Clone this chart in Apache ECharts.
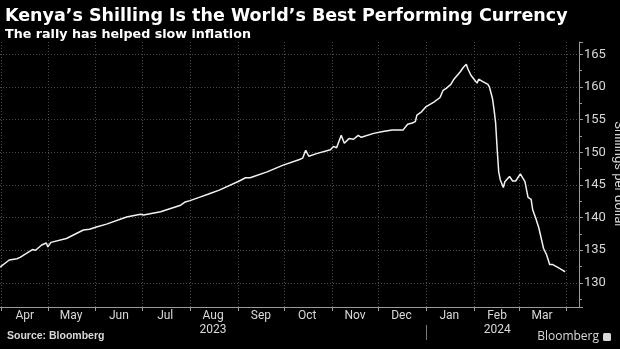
<!DOCTYPE html>
<html>
<head>
<meta charset="utf-8">
<script src="https://cdn.jsdelivr.net/npm/echarts@6/dist/echarts.min.js"></script>
<style>
  html, body { margin: 0; padding: 0; background: #000; }
  #chart { width: 620px; height: 349px; }
</style>
</head>
<body>
<div id="chart"></div>
<script>
// Kenyan shilling per US dollar, daily close readings
const dates = [
  '2023-03-31', '2023-04-06', '2023-04-11', '2023-04-13', '2023-04-21', '2023-04-23', '2023-04-27', '2023-04-30',
  '2023-05-01', '2023-05-03', '2023-05-13', '2023-05-24', '2023-05-28', '2023-06-02', '2023-06-08', '2023-06-21',
  '2023-06-30', '2023-07-02', '2023-07-13', '2023-07-26', '2023-07-29', '2023-08-01', '2023-08-07', '2023-08-14',
  '2023-08-20', '2023-09-02', '2023-09-06', '2023-09-09', '2023-09-20', '2023-09-30', '2023-10-11', '2023-10-13',
  '2023-10-15', '2023-10-17', '2023-10-22', '2023-10-31', '2023-11-02', '2023-11-04', '2023-11-07', '2023-11-09',
  '2023-11-12', '2023-11-15', '2023-11-18', '2023-11-20', '2023-11-28', '2023-12-04', '2023-12-10', '2023-12-17',
  '2023-12-18', '2023-12-20', '2023-12-23', '2023-12-25', '2023-12-26', '2023-12-29', '2024-01-01', '2024-01-06',
  '2024-01-10', '2024-01-12', '2024-01-14', '2024-01-17', '2024-01-19', '2024-01-23', '2024-01-25', '2024-01-27',
  '2024-01-28', '2024-01-30', '2024-02-01', '2024-02-03', '2024-02-04', '2024-02-05', '2024-02-07', '2024-02-10',
  '2024-02-11', '2024-02-13', '2024-02-14', '2024-02-15', '2024-02-16', '2024-02-17', '2024-02-18', '2024-02-20',
  '2024-02-21', '2024-02-24', '2024-02-26', '2024-02-28', '2024-03-02', '2024-03-05', '2024-03-07', '2024-03-09',
  '2024-03-10', '2024-03-12', '2024-03-14', '2024-03-17', '2024-03-19', '2024-03-21', '2024-03-23', '2024-03-26',
  '2024-03-29', '2024-03-31'
];
const rates = [
  132.4, 133.5, 133.7, 133.9, 135.1, 135.0, 135.8, 136.1,
  135.5, 136.2, 136.8, 138.1, 138.2, 138.6, 139.0, 140.1,
  140.5, 140.4, 140.9, 141.9, 142.4, 142.6, 143.1, 143.7,
  144.2, 145.6, 146.1, 146.1, 147.0, 148.0, 148.9, 149.1,
  150.3, 149.4, 149.8, 150.4, 150.9, 150.7, 152.6, 151.4,
  152.1, 152.0, 152.6, 152.3, 152.9, 153.2, 153.4, 153.4,
  153.7, 154.3, 154.5, 154.7, 155.7, 156.2, 157.0, 157.7,
  158.4, 159.5, 159.8, 160.4, 161.2, 162.3, 163.0, 163.5,
  162.8, 161.8, 161.2, 160.6, 161.2, 161.4, 160.8, 160.4,
  160.0, 158.2, 156.5, 154.5, 150.5, 147.0, 145.8, 144.6,
  145.5, 146.3, 145.6, 145.6, 146.7, 145.5, 143.1, 142.8,
  141.2, 139.9, 138.4, 135.3, 134.3, 132.8, 132.8, 132.4,
  132.0, 131.7
];

const monthNames = ['Jan', 'Feb', 'Mar', 'Apr', 'May', 'Jun', 'Jul', 'Aug', 'Sep', 'Oct', 'Nov', 'Dec'];
const yearLabels = { '2023-08-16': '2023', '2024-02-16': '2024' };
const yearBreaks = ['2024-01-01'];

// Calendar of days spanned by the horizontal axis
const axisStart = Date.UTC(2023, 2, 31);
const axisEnd = Date.UTC(2024, 3, 9);
const days = [];
for (let t = axisStart; t <= axisEnd; t += 86400000) {
  days.push(new Date(t).toISOString().slice(0, 10));
}

const isMonthStart = (i, d) => d.slice(8) === '01';
const isMidMonth = (i, d) => d.slice(8) === '16';

const gridColor = '#4a4a4a';
const axisColor = '#9a9a9a';
const textColor = '#d9d9d9';
const uiFont = 'Liberation Sans Narrow, Roboto, sans-serif';
const headFont = 'DejaVu Sans';

const chart = echarts.init(document.getElementById('chart'), null, { renderer: 'canvas' });

chart.setOption({
  backgroundColor: '#000',
  animation: false,
  title: [
    {
      text: 'Kenya’s Shilling Is the World’s Best Performing Currency',
      subtext: 'The rally has helped slow inflation',
      left: 0, top: 2, itemGap: 3,
      textStyle: { color: '#fff', fontSize: 17.5, fontWeight: 'bold', fontFamily: headFont },
      subtextStyle: { color: '#fff', fontSize: 12.7, fontWeight: 'bold', fontFamily: headFont }
    },
    {
      text: 'Source: Bloomberg',
      left: 2, bottom: 2,
      textStyle: { color: textColor, fontSize: 10.5, fontWeight: 'bold', fontFamily: 'Liberation Sans' }
    },
    {
      text: 'Bloomberg{gap|}{mark|}',
      right: 4, bottom: 1,
      textStyle: {
        color: textColor, fontSize: 12, fontWeight: 'normal', fontFamily: 'Open Sans',
        rich: {
          gap: { width: 4 },
          mark: { width: 8, height: 8, backgroundColor: textColor, borderRadius: 1.5 }
        }
      }
    }
  ],
  grid: { left: 0, right: 41, top: 42, bottom: 42, outerBoundsMode: 'none', containLabel: false },
  xAxis: [
    {
      type: 'category',
      data: days,
      boundaryGap: false,
      position: 'bottom',
      axisLine: { show: true, lineStyle: { color: axisColor, width: 1 } },
      axisTick: { show: true, interval: isMonthStart, length: 4, lineStyle: { color: axisColor } },
      axisLabel: {
        show: true,
        interval: isMidMonth,
        color: textColor,
        fontSize: 12,
        fontFamily: uiFont,
        lineHeight: 14,
        margin: 2,
        formatter: (d) => {
          let s = monthNames[+d.slice(5, 7) - 1];
          if (yearLabels[d]) s += '\n' + yearLabels[d];
          return s;
        }
      },
      splitLine: { show: true, interval: isMonthStart, lineStyle: { color: gridColor, type: [1, 2], width: 1 } }
    },
    {
      // divider between calendar years under the month labels
      type: 'category',
      data: days,
      boundaryGap: false,
      position: 'bottom',
      offset: 18,
      axisLine: { show: false },
      axisTick: { show: true, interval: (i, d) => yearBreaks.includes(d), length: 15, lineStyle: { color: '#777' } },
      axisLabel: { show: false },
      splitLine: { show: false }
    }
  ],
  yAxis: {
    type: 'value',
    position: 'right',
    min: 126.3,
    max: 166.9,
    splitNumber: 8,
    name: 'Shillings per dollar',
    nameLocation: 'middle',
    nameRotate: -90,
    nameGap: 33,
    nameMoveOverlap: false,
    nameTextStyle: { color: textColor, fontSize: 13, fontFamily: uiFont },
    axisLine: { show: true, lineStyle: { color: axisColor, width: 1 } },
    axisTick: { show: true, length: 4, lineStyle: { color: axisColor } },
    minorTick: { show: true, splitNumber: 2, length: 3, lineStyle: { color: axisColor } },
    axisLabel: {
      color: textColor, fontSize: 13, fontFamily: uiFont, margin: 5,
      showMinLabel: false, showMaxLabel: false
    },
    splitLine: { show: true, showMinLine: false, showMaxLine: false, lineStyle: { color: gridColor, type: [1, 2], width: 1 } }
  },
  series: [
    {
      type: 'line',
      data: dates.map((d, i) => [d, rates[i]]),
      xAxisIndex: 0,
      showSymbol: false,
      lineStyle: { color: '#f2f2f2', width: 1.5 },
      emphasis: { disabled: true }
    }
  ]
});
</script>
</body>
</html>
